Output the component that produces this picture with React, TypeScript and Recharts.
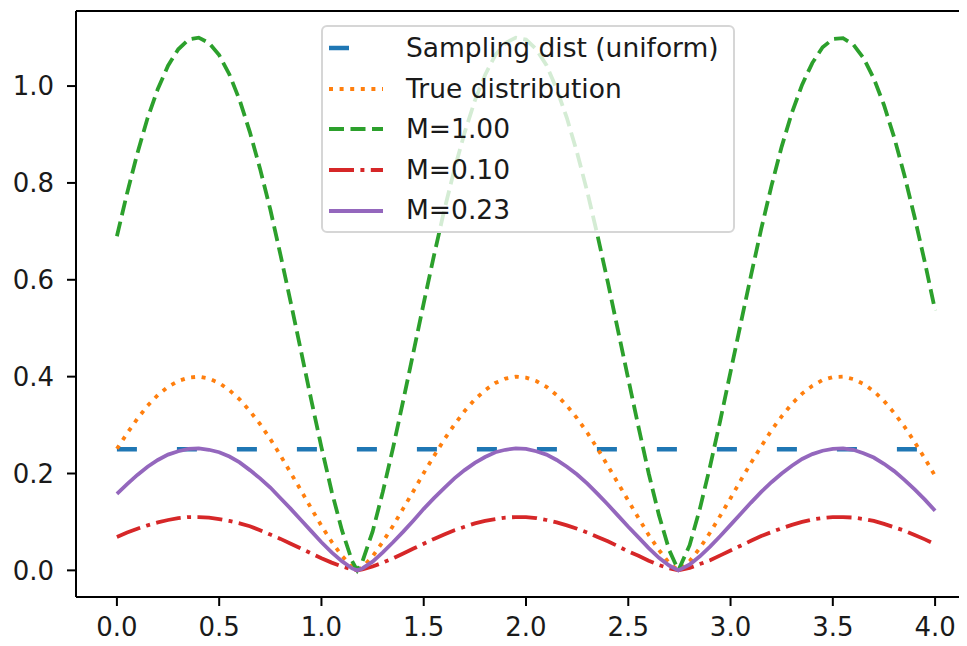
import { LineChart, Line, XAxis, YAxis, ReferenceLine } from 'recharts'

// x positions (0 → 4, plus the two minima)
const XS = [
  0, 0.05, 0.1, 0.15, 0.2, 0.25, 0.3, 0.35, 0.4, 0.45, 0.5, 0.55, 0.6, 0.65, 0.7, 0.75, 0.8, 0.85, 0.9, 0.95, 1.0, 1.05, 1.1, 1.15,
  1.175,
  1.2, 1.25, 1.3, 1.35, 1.4, 1.45, 1.5, 1.55, 1.6, 1.65, 1.7, 1.75, 1.8, 1.85, 1.9, 1.95, 2.0, 2.05, 2.1, 2.15, 2.2, 2.25, 2.3, 2.35,
  2.4, 2.45, 2.5, 2.55, 2.6, 2.65, 2.7,
  2.745,
  2.8, 2.85, 2.9, 2.95, 3.0, 3.05, 3.1, 3.15, 3.2, 3.25, 3.3, 3.35, 3.4, 3.45, 3.5, 3.55, 3.6, 3.65, 3.7, 3.75, 3.8, 3.85, 3.9, 3.95, 4.0,
]

const TRUE_DIST = [
  0.251, 0.283, 0.313, 0.34, 0.362, 0.379, 0.391, 0.398, 0.4, 0.396, 0.387, 0.372, 0.353, 0.329, 0.302, 0.271, 0.237, 0.201, 0.165, 0.128, 0.092, 0.059, 0.03, 0.007,
  0,
  0.006, 0.029, 0.059, 0.092, 0.128, 0.164, 0.201, 0.236, 0.27, 0.301, 0.329, 0.353, 0.372, 0.387, 0.396, 0.4, 0.398, 0.391, 0.379, 0.362, 0.34, 0.314, 0.284, 0.251,
  0.216, 0.18, 0.144, 0.108, 0.073, 0.042, 0.015,
  0,
  0.019, 0.046, 0.078, 0.113, 0.149, 0.186, 0.222, 0.256, 0.289, 0.318, 0.344, 0.365, 0.381, 0.393, 0.399, 0.4, 0.395, 0.385, 0.37, 0.35, 0.325, 0.297, 0.265, 0.231, 0.195,
]

const M_100 = [
  0.69, 0.779, 0.861, 0.934, 0.994, 1.042, 1.076, 1.096, 1.1, 1.089, 1.064, 1.024, 0.971, 0.905, 0.829, 0.745, 0.651, 0.553, 0.453, 0.352, 0.254, 0.163, 0.083, 0.019,
  0,
  0.018, 0.08, 0.162, 0.253, 0.351, 0.451, 0.552, 0.65, 0.743, 0.828, 0.904, 0.97, 1.023, 1.064, 1.089, 1.1, 1.096, 1.076, 1.043, 0.994, 0.934, 0.862, 0.781, 0.691,
  0.595, 0.495, 0.395, 0.296, 0.2, 0.114, 0.042,
  0,
  0.052, 0.127, 0.215, 0.31, 0.41, 0.51, 0.609, 0.705, 0.794, 0.875, 0.945, 1.003, 1.048, 1.08, 1.097, 1.099, 1.086, 1.058, 1.016, 0.961, 0.894, 0.816, 0.729, 0.636, 0.537,
]

const M_010 = [
  0.069, 0.078, 0.086, 0.093, 0.099, 0.104, 0.108, 0.11, 0.11, 0.109, 0.106, 0.102, 0.097, 0.091, 0.083, 0.074, 0.065, 0.055, 0.045, 0.035, 0.025, 0.016, 0.008, 0.002,
  0,
  0.002, 0.008, 0.016, 0.025, 0.035, 0.045, 0.055, 0.065, 0.074, 0.083, 0.09, 0.097, 0.102, 0.106, 0.109, 0.11, 0.11, 0.108, 0.104, 0.099, 0.093, 0.086, 0.078, 0.069,
  0.06, 0.05, 0.039, 0.03, 0.02, 0.011, 0.004,
  0,
  0.005, 0.013, 0.021, 0.031, 0.041, 0.051, 0.061, 0.071, 0.079, 0.087, 0.094, 0.1, 0.105, 0.108, 0.11, 0.11, 0.109, 0.106, 0.102, 0.096, 0.089, 0.082, 0.073, 0.064, 0.054,
]

const M_023 = [
  0.158, 0.178, 0.197, 0.214, 0.228, 0.239, 0.246, 0.251, 0.252, 0.249, 0.244, 0.235, 0.223, 0.207, 0.19, 0.171, 0.149, 0.127, 0.104, 0.081, 0.058, 0.037, 0.019, 0.004,
  0,
  0.004, 0.018, 0.037, 0.058, 0.08, 0.103, 0.127, 0.149, 0.17, 0.19, 0.207, 0.222, 0.234, 0.244, 0.249, 0.252, 0.251, 0.246, 0.239, 0.228, 0.214, 0.198, 0.179, 0.158,
  0.136, 0.113, 0.09, 0.068, 0.046, 0.026, 0.01,
  0,
  0.012, 0.029, 0.049, 0.071, 0.094, 0.117, 0.14, 0.162, 0.182, 0.2, 0.216, 0.23, 0.24, 0.247, 0.251, 0.252, 0.249, 0.242, 0.233, 0.22, 0.205, 0.187, 0.167, 0.146, 0.123,
]

// uniform sampling density
const UNIFORM_X = [0, 4.0]
const UNIFORM_Y = [0.25, 0.25]

const X_TICKS = [0, 0.5, 1.0, 1.5, 2.0, 2.5, 3.0, 3.5, 4.0]
const Y_TICKS = [0, 0.2, 0.4, 0.6, 0.8, 1.0]
const X_DOMAIN = [-0.2, 4.2]
const Y_DOMAIN = [-0.055, 1.155]

const FONT = '"DejaVu Sans", Verdana, sans-serif'
const TICK_STYLE = { fontSize: 26, fill: '#1a1a1a', fontFamily: FONT }

interface SeriesMeta {
  key: string
  label: string
  color: string
  width: number
  dash?: string
}

const SERIES: SeriesMeta[] = [
  { key: 'uniform', label: 'Sampling dist (uniform)', color: '#1f77b4', width: 4.5, dash: '20 40' },
  { key: 'truth', label: 'True distribution', color: '#ff7f0e', width: 3.8, dash: '4 6.6' },
  { key: 'm100', label: 'M=1.00', color: '#2ca02c', width: 3.8, dash: '15 6.5' },
  { key: 'm010', label: 'M=0.10', color: '#d62728', width: 3.8, dash: '25 6.4 4 6.4' },
  { key: 'm023', label: 'M=0.23', color: '#9467bd', width: 3.8 },
]

const rows = XS.map((x, i) => ({ x, truth: TRUE_DIST[i], m100: M_100[i], m010: M_010[i], m023: M_023[i] }))
const uniformRows = UNIFORM_X.map((x, i) => ({ x, uniform: UNIFORM_Y[i] }))

function LegendBox() {
  return (
    <div
      style={{
        position: 'absolute',
        left: 313,
        top: 17,
        width: 414,
        height: 208,
        boxSizing: 'border-box',
        background: 'rgba(255,255,255,0.8)',
        border: '2px solid #d6d6d6',
        borderRadius: 6,
        fontFamily: FONT,
      }}
    >
      {SERIES.map((s, i) => (
        <div
          key={s.key}
          style={{ position: 'absolute', left: 0, top: i * 40.6 + 1, height: 40.6, width: '100%', display: 'flex', alignItems: 'center' }}
        >
          <svg width={56} height={12} style={{ marginLeft: 6, flex: 'none' }}>
            <line x1={0} y1={6} x2={54} y2={6} stroke={s.color} strokeWidth={s.width} strokeDasharray={s.dash} />
          </svg>
          <span style={{ marginLeft: 21, fontSize: 26.5, color: '#1a1a1a', whiteSpace: 'nowrap', lineHeight: 1 }}>{s.label}</span>
        </div>
      ))}
    </div>
  )
}

export default function App() {
  // 638 tall but pulled up 8px so the page (8px body margin) stays 646 high
  return (
    <div style={{ position: 'relative', width: 959, height: 638, marginBottom: -8, overflow: 'hidden' }}>
      <LineChart width={968} height={638} data={rows} margin={{ top: 3, right: 0, bottom: 0, left: 0 }}>
        <XAxis
          dataKey="x"
          type="number"
          domain={X_DOMAIN}
          ticks={X_TICKS}
          allowDataOverflow
          height={49}
          tick={TICK_STYLE}
          tickFormatter={(v: number) => v.toFixed(1)}
          tickSize={9}
          tickMargin={12}
          axisLine={{ stroke: '#000', strokeWidth: 2 }}
          tickLine={{ stroke: '#000', strokeWidth: 2 }}
        />
        <YAxis
          type="number"
          domain={Y_DOMAIN}
          ticks={Y_TICKS}
          allowDataOverflow
          width={68}
          tick={TICK_STYLE}
          tickFormatter={(v: number) => v.toFixed(1)}
          tickSize={9}
          tickMargin={13}
          axisLine={{ stroke: '#000', strokeWidth: 2 }}
          tickLine={{ stroke: '#000', strokeWidth: 2 }}
        />
        {/* top spine */}
        <ReferenceLine y={Y_DOMAIN[1]} stroke="#000" strokeWidth={2} />
        {SERIES.map((s) => (
          <Line
            key={s.key}
            data={s.key === 'uniform' ? uniformRows : undefined}
            dataKey={s.key}
            type="linear"
            stroke={s.color}
            strokeWidth={s.width}
            strokeDasharray={s.dash}
            dot={false}
            activeDot={false}
            isAnimationActive={false}
          />
        ))}
      </LineChart>
      <LegendBox />
    </div>
  )
}
